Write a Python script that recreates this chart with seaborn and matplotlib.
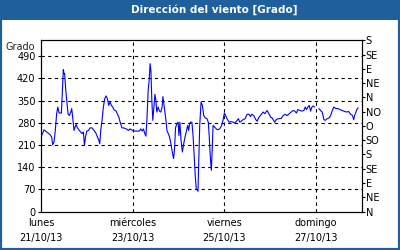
import numpy as np
import pandas as pd
import matplotlib
matplotlib.use("Agg")
import matplotlib.pyplot as plt
import seaborn as sns
from matplotlib.patches import Rectangle

# ---- data (hours since 21/10/13 00:00, wind direction in degrees) ----
hours_a = [0, 0.35, 1.6, 3.0, 4.7, 5.6, 6.1, 6.8, 7.5, 8.2, 8.8, 9.5, 10.7, 11.0, 11.7, 12.1, 12.4, 13.0,
           13.5, 14.2, 14.9, 15.6, 16.1, 16.6, 17.3, 17.9, 18.4, 19.1, 20.1, 20.8, 21.5, 22.2, 22.8, 23.3,
           24.0, 24.9, 25.7, 26.8, 27.8, 28.9, 29.6, 30.3, 30.8, 31.3, 32.0, 32.7, 33.4, 34.1, 34.8, 35.5,
           36.2, 36.9, 37.6, 38.3, 39.4, 40.1, 40.8, 41.5, 42.4, 43.3, 44.6, 45.9, 46.7, 47.4, 48.5, 50.2,
           51.6, 52.3, 53.0, 53.7, 54.4, 55.0, 55.5, 56.2, 56.7, 57.2, 57.6, 58.1, 58.6, 59.2, 59.7, 60.2,
           60.7, 61.4, 62.1, 62.8, 63.5, 63.9, 64.4, 64.9, 65.5, 66.0, 66.7, 67.4, 68.1, 68.8, 69.5, 70.0,
           70.5, 71.2, 71.9, 72.3, 72.8, 73.4, 74.1, 74.8, 75.5, 76.2, 76.9, 77.4, 77.9, 78.3, 79.1, 79.7,
           80.4, 80.9, 81.4, 82.3, 82.6, 83.2, 83.9, 84.6, 85.3, 86.0, 87.0, 87.7, 88.2, 88.8, 89.3, 89.8,
           90.2, 90.9, 91.9, 92.6, 93.7, 94.7, 95.4, 96.1, 96.8, 97.5, 98.6, 99.6, 100.7, 101.7, 102.8,
           103.5, 104.2, 104.9, 105.9, 107.0, 108.0, 109.1, 109.8, 110.5, 111.5, 112.6, 113.3, 114.1,
           115.0, 116.4, 117.3, 118.5, 119.6, 120.6, 121.1, 121.7, 122.5, 123.4, 124.6, 125.9, 126.9,
           128.0, 129.0, 130.1, 131.1, 132.2, 133.0, 133.9, 134.6, 135.7, 136.7, 137.8, 138.5, 139.2,
           139.9, 140.6, 141.3, 142.0, 142.7, 143.4]
deg_a = [242, 240, 258, 251, 243, 235, 211, 219, 256, 309, 330, 311, 311, 351, 448, 435, 435, 382,
         351, 307, 303, 314, 325, 298, 256, 267, 275, 264, 256, 251, 246, 251, 209, 235,
         254, 256, 264, 264, 256, 246, 235, 225, 214, 256, 288, 330, 356, 365, 356, 335,
         346, 335, 330, 321, 317, 307, 298, 282, 264, 264, 261, 256, 261, 258, 254, 254,
         254, 261, 254, 261, 246, 238, 288, 385, 414, 467, 446, 351, 288, 330, 370, 351,
         314, 330, 317, 314, 330, 363, 340, 319, 288, 256, 246, 235, 214, 188, 167, 198,
         264, 277, 282, 240, 282, 225, 188, 214, 235, 254, 272, 256, 277, 282, 282, 240,
         161, 108, 72, 64, 140, 272, 346, 335, 303, 296, 293, 282, 235, 167, 130, 203,
         272, 267, 261, 258, 261, 272, 288, 311, 303, 293, 282, 284, 282, 279, 288,
         293, 282, 285, 290, 293, 307, 307, 300, 307, 303, 290, 285, 296,
         303, 314, 309, 319, 307, 296, 296, 290, 282, 291, 293, 294, 303,
         307, 303, 309, 314, 319, 317, 311, 322, 319, 317, 319, 330, 322,
         330, 335, 317, 330, 333, 330]
hours_b = [145.7, 146.5, 147.4, 148.3, 149.0, 150.0, 151.1, 151.8, 152.7, 153.5, 154.6, 155.6,
           156.7, 157.9, 159.1, 160.2, 161.2, 162.3, 163.3, 163.9, 164.4, 165.1, 165.8, 166.3]
deg_b = [325, 319, 314, 290, 288, 293, 296, 303, 319, 330, 325, 325,
         322, 319, 316, 314, 316, 307, 303, 290, 303, 314, 325, 327]

x_tick_days = [0, 2, 4, 6]
x_tick_labels = ["lunes\n21/10/13", "miércoles\n23/10/13", "viernes\n25/10/13", "domingo\n27/10/13"]
y_ticks = [0, 70, 140, 210, 280, 350, 420, 490]
compass_ticks = [0, 45, 90, 135, 180, 225, 270, 315, 360, 405, 450, 495, 540]
compass_labels = ["N", "NE", "E", "SE", "S", "SO", "O", "NO", "N", "NE", "E", "SE", "S"]
title = "Dirección del viento [Grado]"
y_title = "Grado"

sns.set_style("white")
plt.rcParams['font.family'] = ['DejaVu Sans']
FS = 7
BLUE = '#1f5f9b'

df_a = pd.DataFrame({"day": np.array(hours_a) / 24.0, "deg": deg_a})
df_b = pd.DataFrame({"day": np.array(hours_b) / 24.0, "deg": deg_b})

fig = plt.figure(figsize=(4, 2.5), dpi=100)
fig.patch.set_facecolor('white')
# frame and title bar
fig.patches.append(Rectangle((0, 0), 1, 1, transform=fig.transFigure, fill=False,
                             edgecolor=BLUE, linewidth=3.0, zorder=0))
fig.patches.append(Rectangle((0, 230 / 250), 1, 20 / 250, transform=fig.transFigure,
                             facecolor=BLUE, edgecolor='none', zorder=1))
fig.text(214 / 400, 240 / 250, title, color='white', fontsize=7.5, fontweight='bold',
         ha='center', va='center')

ax = fig.add_axes([41 / 400, 38.5 / 250, 320.5 / 400, 171 / 250])
sns.lineplot(data=df_a, x="day", y="deg", ax=ax, color='#0000ff', linewidth=0.8, estimator=None)
sns.lineplot(data=df_b, x="day", y="deg", ax=ax, color='#0000ff', linewidth=0.8, estimator=None)

ax.set_xlim(0, 7)
ax.set_ylim(0, 540)
ax.set_xlabel("")
ax.set_ylabel("")
ax.set_xticks(x_tick_days)
ax.set_xticklabels(x_tick_labels, fontsize=FS, linespacing=1.55)
ax.set_xticks([1, 3, 5], minor=True)
ax.set_yticks(y_ticks)
ax.set_yticklabels([str(v) for v in y_ticks], fontsize=FS)
ax.tick_params(axis='x', which='both', direction='in', length=3, width=0.8, pad=5, colors='black')
ax.tick_params(axis='y', direction='out', length=2.5, width=0.8, pad=1.5, colors='black')
for s in ax.spines.values():
    s.set_color('black')
    s.set_linewidth(0.8)

for yv in y_ticks[1:]:
    ax.axhline(yv, color='black', linewidth=0.8, linestyle=(0, (3, 3)), zorder=0.5)
for xv in x_tick_days[1:]:
    ax.axvline(xv, color='black', linewidth=0.8, linestyle=(0, (3, 3)), zorder=0.5)

ax2 = ax.twinx()
ax2.set_ylim(0, 540)
ax2.set_yticks(compass_ticks)
ax2.set_yticklabels(compass_labels, fontsize=FS)
ax2.tick_params(axis='y', direction='out', length=2.5, width=0.8, pad=0.5, colors='black')
for s in ax2.spines.values():
    s.set_color('black')
    s.set_linewidth(0.8)

fig.text(35.5 / 400, (250 - 49.5) / 250, y_title, fontsize=FS, ha='right', va='baseline')

fig.savefig("out.png", dpi=100, facecolor='white')
